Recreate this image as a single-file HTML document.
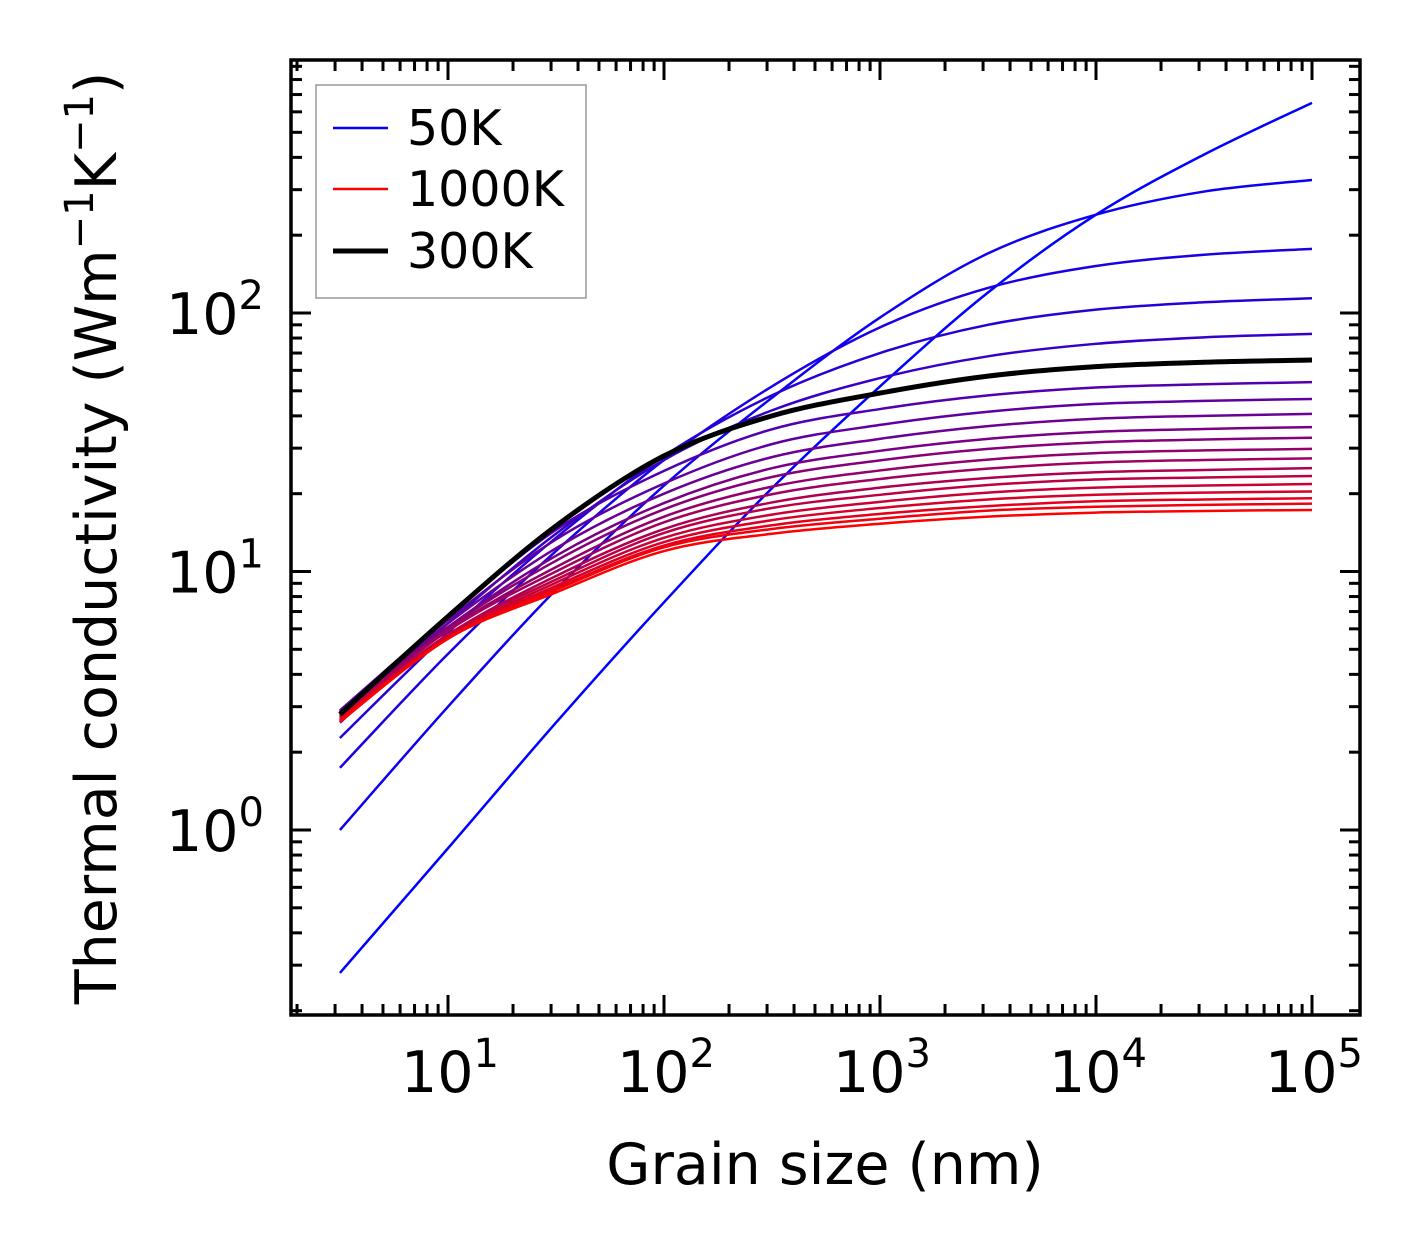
<!DOCTYPE html>
<html><head><meta charset="utf-8"><style>
html,body{margin:0;padding:0;background:#fff}
svg text{font-family:"DejaVu Sans","Liberation Sans",sans-serif;fill:#000}
</style></head><body>
<svg id="chart" width="1421" height="1254" viewBox="0 0 1421 1254" xmlns="http://www.w3.org/2000/svg">
<g id="curves"></g>
<g id="axes"></g>
<g id="legend">
  <rect x="316" y="85" width="270" height="213" fill="#fff" stroke="#999" stroke-width="1.5"/>
  <line x1="333" y1="128" x2="388" y2="128" stroke="#0000ff" stroke-width="2.5"/>
  <text x="407" y="145" font-size="49">50K</text>
  <line x1="333" y1="189" x2="388" y2="189" stroke="#ff0000" stroke-width="2.5"/>
  <text x="407" y="206" font-size="49">1000K</text>
  <line x1="333" y1="251" x2="388" y2="251" stroke="#000" stroke-width="5"/>
  <text x="407" y="268" font-size="49">300K</text>
</g>
<text x="825" y="1184" font-size="57" text-anchor="middle">Grain size (nm)</text>
<text transform="translate(116,538) rotate(-90)" font-size="57" text-anchor="middle">Thermal conductivity (Wm<tspan font-size="40" dy="-23">−1</tspan><tspan dy="23">K</tspan><tspan font-size="40" dy="-23">−1</tspan><tspan dy="23">)</tspan></text>
</svg>
<script>
const grainSizes = [3.16, 10, 31.6, 100, 316, 1000, 3162, 10000, 31623, 100000];
const temperatures = [50,100,150,200,250,350,400,450,500,550,600,650,700,750,800,850,900,950,1000];
const kappa50  = [0.28, 0.85, 2.6, 7.6, 21, 52, 120, 240, 410, 650];
const kappa100 = [1.0, 3.0, 8.5, 21.5, 47, 96, 170, 240, 295, 327];
const kappa150 = [1.74, 4.8, 12, 27, 52, 88, 125, 152, 168, 177];
const kappa200 = [2.27, 5.8, 13.5, 28, 48, 70, 90, 103, 110, 114];
const kappa250 = [2.6, 6.3, 14, 27, 42, 56, 68, 76, 80.5, 83];
const kappa300 = [2.8, 6.7, 15, 28, 40, 49, 57, 62, 64.5, 65.8];
const kappa350 = [2.9, 6.7, 14.5, 24.5, 35.5, 42.5, 48, 51.5, 53, 54];
const kappa400 = [2.88, 6.5, 13.3, 21.9, 31.1, 36.9, 41.5, 44.5, 45.7, 46.5];
const kappa450 = [2.86, 6.3, 12.3, 20.0, 27.7, 32.6, 36.5, 39.0, 40.0, 40.7];
const kappa500 = [2.84, 6.1, 11.5, 18.4, 25.1, 29.3, 32.6, 34.7, 35.6, 36.2];
const kappa550 = [2.81, 6.05, 11.0, 17.4, 23.2, 26.9, 29.8, 31.6, 32.4, 32.9];
const kappa600 = [2.79, 5.95, 10.4, 16.3, 21.3, 24.6, 27.1, 28.7, 29.4, 29.8];
const kappa650 = [2.77, 5.9, 10.0, 15.5, 19.9, 22.8, 25.0, 26.4, 27.0, 27.4];
const kappa700 = [2.75, 5.7, 9.6, 14.6, 18.5, 21.1, 23.0, 24.2, 24.7, 25.1];
const kappa750 = [2.73, 5.7, 9.3, 14.1, 17.6, 19.8, 21.6, 22.7, 23.1, 23.4];
const kappa800 = [2.71, 5.6, 9.05, 13.5, 16.6, 18.6, 20.2, 21.1, 21.5, 21.8];
const kappa850 = [2.68, 5.55, 8.8, 13.0, 15.8, 17.6, 19.0, 19.8, 20.2, 20.4];
const kappa900 = [2.66, 5.5, 8.6, 12.6, 15.1, 16.7, 17.9, 18.7, 19.0, 19.2];
const kappa950 = [2.64, 5.5, 8.5, 12.4, 14.6, 16.0, 17.2, 17.8, 18.1, 18.3];
const kappa1000 = [2.62, 5.5, 8.3, 12.0, 14.0, 15.3, 16.3, 16.9, 17.15, 17.3];
const xTickExps = [1, 2, 3, 4, 5];
const yTickExps = [0, 1, 2];

const NS = 'http://www.w3.org/2000/svg';
const PL = 291, PR = 1360, PT = 60, PB = 1015;
const xDec = 216, x10 = 448;
const yDec = 258.5, y1 = 830;
function xs(v){ return x10 + (Math.log10(v) - 1) * xDec; }
function ys(v){ return y1 - Math.log10(v) * yDec; }
const xMin = Math.pow(10, 1 - (x10 - PL) / xDec), xMax = Math.pow(10, 1 + (PR - x10) / xDec);
const yMax = Math.pow(10, (y1 - PT) / yDec), yMin = Math.pow(10, -(PB - y1) / yDec);

function pathFor(vals){
  const p = grainSizes.map((g, i) => [xs(g), ys(vals[i])]);
  let d = 'M' + p[0][0].toFixed(2) + ',' + p[0][1].toFixed(2);
  for (let i = 0; i < p.length - 1; i++){
    const p0 = p[i-1] || p[i], p1 = p[i], p2 = p[i+1], p3 = p[i+2] || p[i+1];
    const c1 = [p1[0] + (p2[0]-p0[0])/6, p1[1] + (p2[1]-p0[1])/6];
    const c2 = [p2[0] - (p3[0]-p1[0])/6, p2[1] - (p3[1]-p1[1])/6];
    d += 'C' + c1[0].toFixed(2) + ',' + c1[1].toFixed(2) + ' ' + c2[0].toFixed(2) + ',' + c2[1].toFixed(2) + ' ' + p2[0].toFixed(2) + ',' + p2[1].toFixed(2);
  }
  return d;
}
const series = [kappa50,kappa100,kappa150,kappa200,kappa250,kappa350,kappa400,kappa450,kappa500,kappa550,kappa600,kappa650,kappa700,kappa750,kappa800,kappa850,kappa900,kappa950,kappa1000];
const cg = document.getElementById('curves');
temperatures.forEach((T, i) => {
  const f = (T - 50) / 950;
  const el = document.createElementNS(NS, 'path');
  el.setAttribute('d', pathFor(series[i]));
  el.setAttribute('fill', 'none');
  el.setAttribute('stroke', 'rgb(' + Math.round(255*f) + ',0,' + Math.round(255*(1-f)) + ')');
  el.setAttribute('stroke-width', '2.5');
  
  
  cg.appendChild(el);
});
{
  const el = document.createElementNS(NS, 'path');
  el.setAttribute('d', pathFor(kappa300));
  el.setAttribute('fill', 'none');
  el.setAttribute('stroke', '#000');
  el.setAttribute('stroke-width', '5');
  
  
  cg.appendChild(el);
}

const ax = document.getElementById('axes');
function ln(x1,y1_,x2,y2,w,name){
  const el = document.createElementNS(NS,'line');
  el.setAttribute('x1',x1); el.setAttribute('y1',y1_); el.setAttribute('x2',x2); el.setAttribute('y2',y2);
  el.setAttribute('stroke','#000'); el.setAttribute('stroke-width',w);
  
  
  ax.appendChild(el);
}
for (let e = 0; e <= 5; e++){
  for (let m = 1; m <= 9; m++){
    const v = m * Math.pow(10, e);
    if (v < xMin || v > xMax) continue;
    const x = xs(v), L = m === 1 ? 20 : 11, w = 3;
    ln(x, PB, x, PB - L, w, m === 1 ? 'x-major-tick' : 'x-minor-tick');
    ln(x, PT, x, PT + L, w, m === 1 ? 'x-major-tick-top' : 'x-minor-tick-top');
  }
}
for (let e = -1; e <= 2; e++){
  for (let m = 1; m <= 9; m++){
    const v = m * Math.pow(10, e);
    if (v < yMin || v > yMax) continue;
    const y = ys(v), L = m === 1 ? 20 : 11, w = 3;
    ln(PL, y, PL + L, y, w, m === 1 ? 'y-major-tick' : 'y-minor-tick');
    ln(PR, y, PR - L, y, w, m === 1 ? 'y-major-tick-right' : 'y-minor-tick-right');
  }
}
function tickLabel(x, y, exp, anchor, name){
  const t = document.createElementNS(NS,'text');
  t.setAttribute('x', x); t.setAttribute('y', y);
  t.setAttribute('font-size', '57');
  t.setAttribute('text-anchor', anchor);
  
  
  t.innerHTML = '10<tspan font-size="40" dy="-25">' + exp + '</tspan>';
  ax.appendChild(t);
}
xTickExps.forEach(e => tickLabel(xs(Math.pow(10,e)) + 2, 1092, e, 'middle', 'x-tick-label'));
yTickExps.forEach(e => tickLabel(264, ys(Math.pow(10,e)) + 21, e, 'end', 'y-tick-label'));
const fr = document.createElementNS(NS,'rect');
fr.setAttribute('x', PL); fr.setAttribute('y', PT); fr.setAttribute('width', PR-PL); fr.setAttribute('height', PB-PT);
fr.setAttribute('fill','none'); fr.setAttribute('stroke','#000'); fr.setAttribute('stroke-width','3.5');


ax.appendChild(fr);
</script>
</body></html>
